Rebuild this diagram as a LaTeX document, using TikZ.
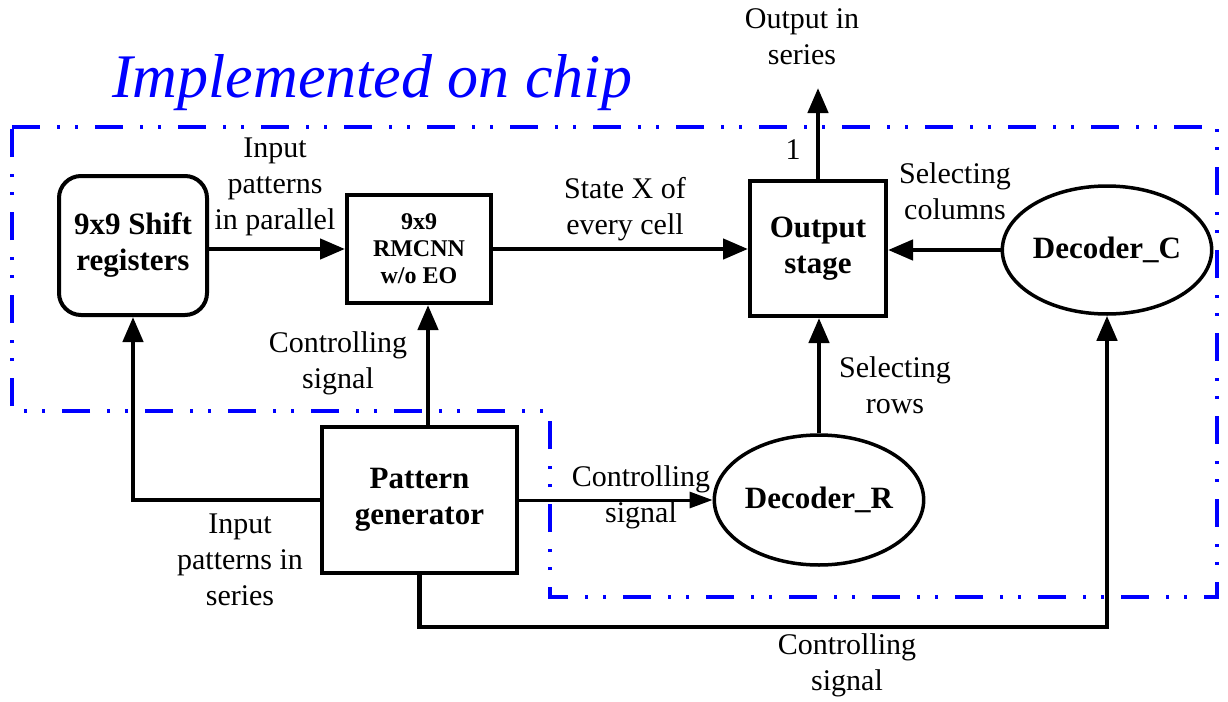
\documentclass[tikz,border=0pt]{standalone}
\usepackage{fontspec}
\setmainfont{Liberation Serif}
\usetikzlibrary{arrows.meta,shapes.geometric,calc}

\definecolor{chipblue}{RGB}{0,0,255}

\tikzset{
  blk/.style={draw, line width=4pt, inner sep=0pt, align=center,
              font=\fontsize{31}{36}\selectfont\bfseries},
  ell/.style={draw, ellipse, line width=3.5pt, inner sep=0pt, align=center,
              font=\fontsize{31}{36}\selectfont\bfseries},
  lbl/.style={align=center, inner sep=0pt, font=\fontsize{30}{36}\selectfont},
  wire/.style={line width=4.5pt, -{Triangle[length=25pt,width=20pt]}},
  thinwire/.style={line width=3pt, -{Triangle[length=23pt,width=16pt]}},
  chip/.style={chipblue, line width=4pt,
    dash pattern=on 28pt off 17pt on 3pt off 15pt on 3pt off 17pt}
}

\begin{document}
\begin{tikzpicture}[x=1pt,y=-1pt]
\useasboundingbox (0,0) rectangle (1228,701);

% on-chip boundary
\draw[chip] (12,127) -- (1217,127) -- (1217,597) -- (550,597)
            -- (550,411) -- (12,411) -- cycle;
\node[anchor=base west, inner sep=0pt, text=chipblue,
      font=\fontsize{62}{70}\selectfont\itshape] (title) at (112,97)
      {Implemented on chip};

% blocks
\node[blk, rounded corners=22pt, minimum width=148pt, minimum height=139pt]
  (sr) at (133,245.5) {9x9 Shift\\registers};
\node[blk, minimum width=144pt, minimum height=108pt,
      font=\fontsize{24}{27}\selectfont\bfseries]
  (rm) at (419,249) {9x9\\RMCNN\\w/o EO};
\node[blk, minimum width=136pt, minimum height=135pt]
  (os) at (818,248.5) {Output\\stage};
\node[blk, minimum width=195pt, minimum height=146pt]
  (pg) at (419.5,500) {Pattern\\generator};
\node[ell, minimum width=186pt, minimum height=130pt]
  (dr) at (819,500) {Decoder\_R};
\node[ell, minimum width=188pt, minimum height=128pt]
  (dc) at (1107,250) {Decoder\_C};

% helper points
\coordinate (ctl) at (428,0);
\coordinate (bot) at (0,627);
\coordinate (out) at (0,88);

% connectors
\draw[wire] (sr.east |- rm.west) -- (rm.west);
\draw[wire] (rm.east) -- (rm.east -| os.west);
\draw[wire] (dc.west) -- (dc.west -| os.east);
\draw[wire] (os.north) -- (os.north |- out);
\draw[wire] (dr.north) -- (dr.north |- os.south);
\draw[wire] (ctl |- pg.north) -- (ctl |- rm.south);
\draw[wire] (pg.west) -| (sr.south);
\draw[thinwire] (pg.east) -- (dr.west);
\draw[wire] (pg.south) -- (pg.south |- bot) -- (dc.south |- bot) -- (dc.south);

% labels
\node[lbl] (l1) at (275,187) {Input\\patterns\\in parallel};
\node[lbl] (l2) at (625,209) {State X of\\every cell};
\node[lbl] (l3) at (802,37) {Output in\\series};
\node[lbl] (l4) at (793,150) {1};
\node[lbl] (l5) at (955,191) {Selecting\\columns};
\node[lbl] (l6) at (338,363) {Controlling\\signal};
\node[lbl] (l7) at (895,385) {Selecting\\rows};
\node[lbl] (l8) at (641,497) {Controlling\\signal};
\node[lbl] (l9) at (240,560) {Input\\patterns in\\series};
\node[lbl] (l10) at (847,665) {Controlling\\signal};
\end{tikzpicture}
\end{document}
